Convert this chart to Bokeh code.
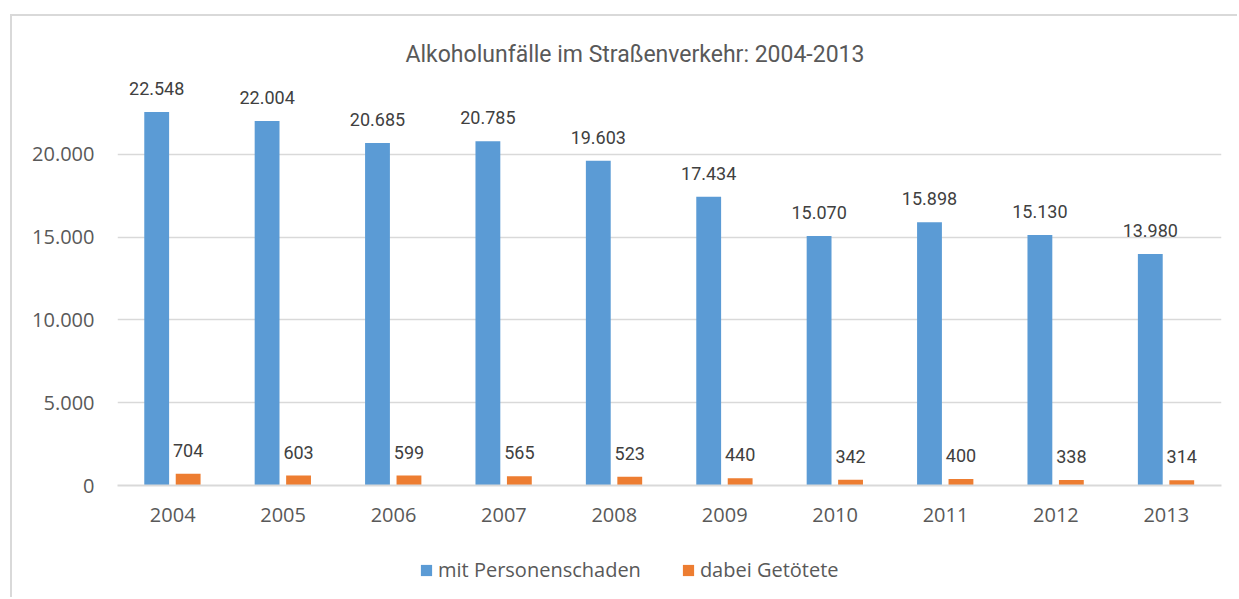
from bokeh.plotting import figure
from bokeh.layouts import column
from bokeh.models import (ColumnDataSource, FactorRange, Range1d, FixedTicker,
                          LabelSet, Legend, LegendItem, Title)
from bokeh.transform import dodge
from bokeh.core.properties import value
from bokeh.embed import file_html
from bokeh.resources import INLINE

years = ["2004", "2005", "2006", "2007", "2008", "2009", "2010", "2011", "2012", "2013"]
mit_personenschaden = [22548, 22004, 20685, 20785, 19603, 17434, 15070, 15898, 15130, 13980]
dabei_getoetete = [704, 603, 599, 565, 523, 440, 342, 400, 338, 314]
y_ticks = [0, 5000, 10000, 15000, 20000]
y_tick_labels = ["0", "5.000", "10.000", "15.000", "20.000"]
title_text = "Alkoholunfälle im Straßenverkehr: 2004-2013"
series_names = ["mit Personenschaden", "dabei Getötete"]


def de(v):
    return f"{v:,}".replace(",", ".")


src = ColumnDataSource(dict(
    year=years,
    a=mit_personenschaden,
    b=dabei_getoetete,
    a_lbl=[de(v) for v in mit_personenschaden],
    b_lbl=[de(v) for v in dabei_getoetete],
))

COND = "Roboto"
SANS = "Open Sans"
BLUE = "#5B9BD5"
ORANGE = "#ED7D31"
GRAY = "#595959"

# ---- main chart ----
p = figure(x_range=FactorRange(*years, range_padding=0), y_range=Range1d(0, 25000),
           width=1225, height=525, output_backend="svg", toolbar_location=None,
           min_border_left=105, min_border_right=16, min_border_top=55, min_border_bottom=56)
p.outline_line_color = None
p.background_fill_color = "white"
p.border_fill_color = "white"

p.vbar(x=dodge("year", -0.145, range=p.x_range), top="a", width=0.225, source=src,
       fill_color=BLUE, line_color=None)
p.vbar(x=dodge("year", 0.14, range=p.x_range), top="b", width=0.225, source=src,
       fill_color=ORANGE, line_color=None)

for fld, lbl, off in (("a", "a_lbl", -0.145), ("b", "b_lbl", 0.14)):
    ls = LabelSet(x=dodge("year", off, range=p.x_range), y=fld, text=lbl, source=src,
                  text_align="center", text_baseline="alphabetic", y_offset=17,
                  text_font=value(COND), text_font_size="18px", text_color="#404040")
    p.add_layout(ls)

p.yaxis.ticker = FixedTicker(ticks=y_ticks)
p.yaxis.major_label_overrides = {t: l for t, l in zip(y_ticks, y_tick_labels)}
p.yaxis.axis_line_color = None
p.yaxis.major_tick_line_color = None
p.yaxis.major_tick_out = 0
p.yaxis.minor_tick_line_color = None
p.yaxis.minor_tick_out = 0
p.yaxis.major_label_standoff = 23
p.yaxis.major_label_text_font = SANS
p.yaxis.major_label_text_font_size = "20px"
p.yaxis.major_label_text_color = GRAY

p.xaxis.axis_line_color = "#D9D9D9"
p.xaxis.axis_line_width = 2
p.xaxis.major_tick_line_color = None
p.xaxis.major_tick_out = 0
p.xaxis.minor_tick_line_color = None
p.xaxis.minor_tick_out = 0
p.xaxis.major_label_standoff = 22
p.xaxis.major_label_text_font = SANS
p.xaxis.major_label_text_font_size = "20px"
p.xaxis.major_label_text_color = GRAY

p.xgrid.grid_line_color = None
p.ygrid.ticker = FixedTicker(ticks=y_ticks[1:])
p.ygrid.grid_line_color = "#D9D9D9"
p.ygrid.grid_line_width = 1.5

t = Title(text=title_text, align="left", offset=288, text_font=COND,
          text_font_size="23px", text_color=GRAY, text_font_style="normal", standoff=7)
p.add_layout(t, "above")

# ---- legend strip ----
q = figure(width=1225, height=56, output_backend="svg", toolbar_location=None,
           x_range=Range1d(0, 1), y_range=Range1d(0, 1),
           x_axis_location=None, y_axis_location=None, min_border=0,
           min_border_left=0, min_border_right=0, min_border_top=0, min_border_bottom=0)
q.outline_line_color = None
q.grid.visible = False
q.background_fill_color = "white"
q.border_fill_color = "white"
# legend keys: zero-height bars, nothing visible in the strip itself
la = q.vbar(x=[0.5], top=[0], bottom=[0], width=0.01, fill_color=BLUE, line_color=None)
lb = q.vbar(x=[0.5], top=[0], bottom=[0], width=0.01, fill_color=ORANGE, line_color=None)
legend = Legend(items=[LegendItem(label=series_names[0], renderers=[la]),
                       LegendItem(label=series_names[1], renderers=[lb])],
                orientation="horizontal", location=(302, 14),
                glyph_width=14, glyph_height=14, label_standoff=5, spacing=40,
                padding=0, margin=0, border_line_color=None, background_fill_alpha=0,
                label_text_font=SANS, label_text_font_size="20px", label_text_color=GRAY)
q.add_layout(legend, "center")

layout = column(p, q, spacing=0)
layout.styles = {"margin-left": "10px", "margin-top": "14px",
                 "border-left": "2px solid #D9D9D9", "border-top": "2px solid #D9D9D9"}

open("out.html", "w").write(file_html(layout, INLINE))
